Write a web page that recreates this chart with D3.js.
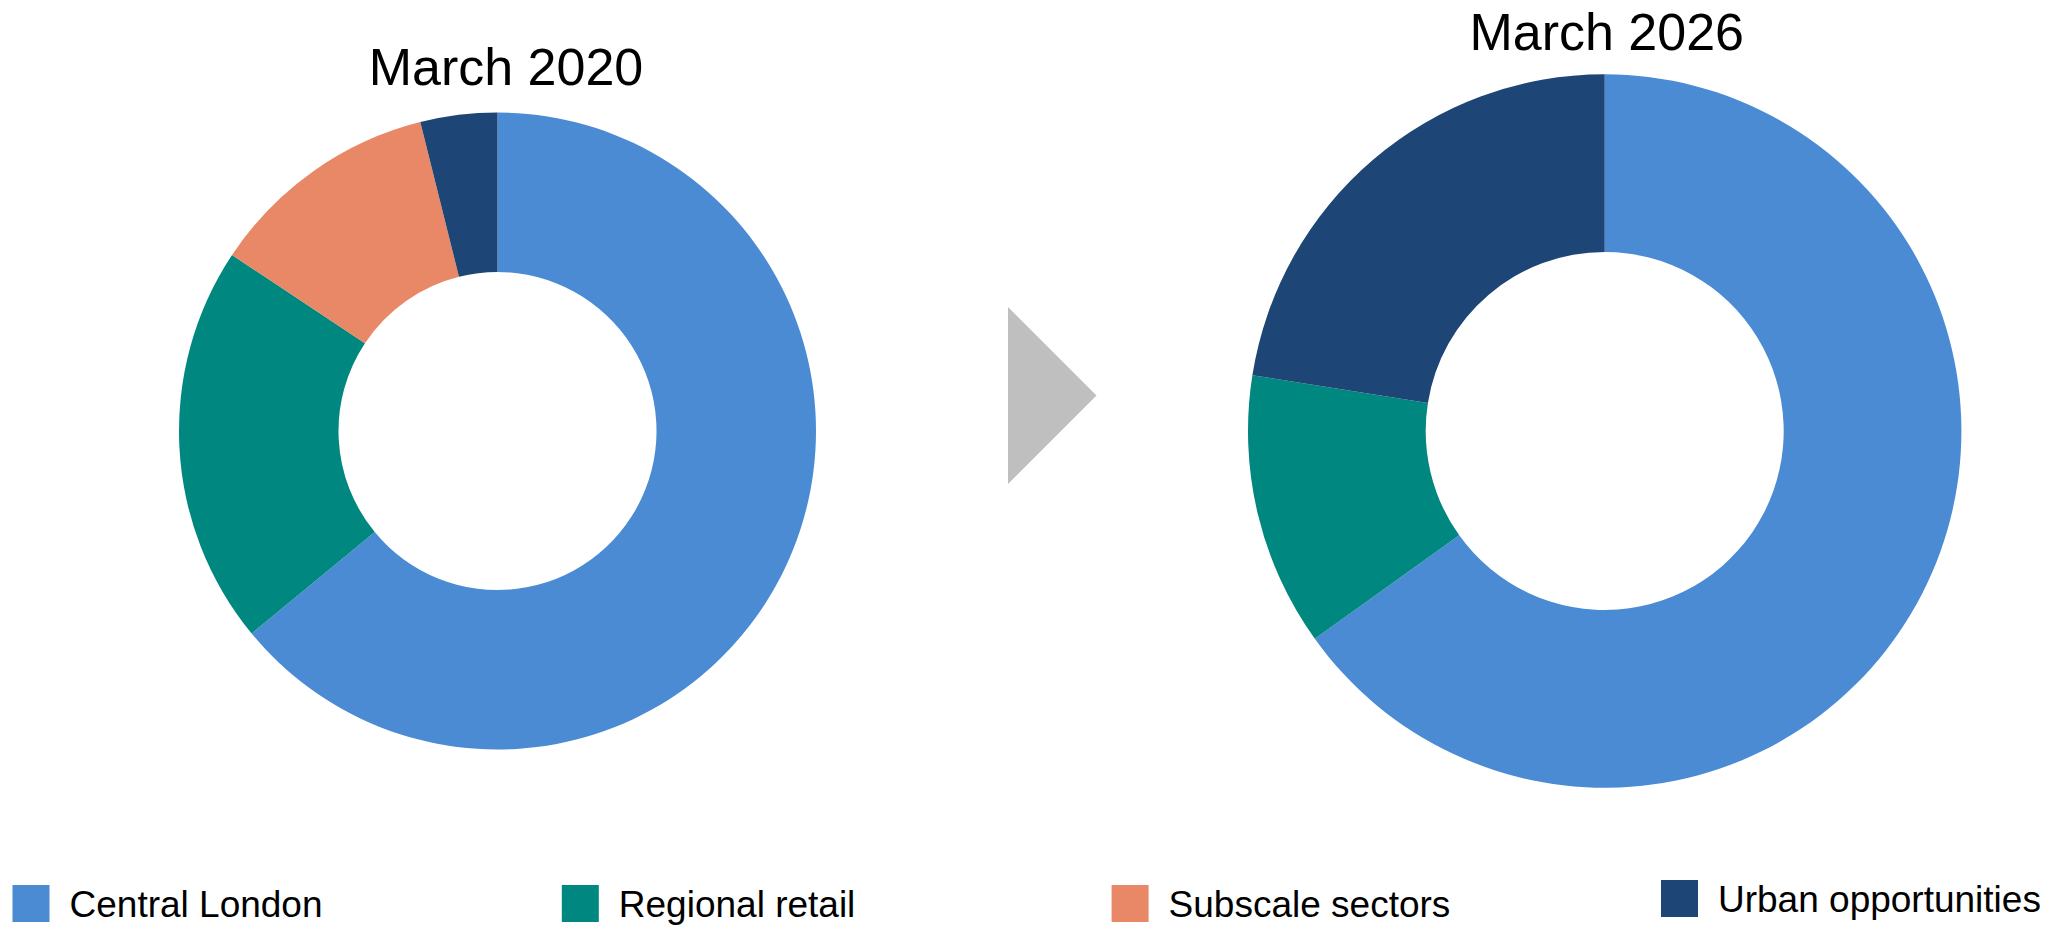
<!DOCTYPE html>
<html>
<head>
<meta charset="utf-8">
<script src="https://cdn.jsdelivr.net/npm/d3@7"></script>
<style>
  html, body { margin: 0; padding: 0; background: #ffffff; }
  svg { display: block; font-family: "Liberation Sans", Arial, sans-serif; }
</style>
</head>
<body>
<svg id="chart" width="2063" height="926"></svg>
<script>
// Portfolio mix by sector (% of total)
const categories = ["Central London", "Regional retail", "Subscale sectors", "Urban opportunities"];
const colors = ["#4a8bd4", "#00877f", "#e98866", "#1d4575"];
const periods = ["March 2020", "March 2026"];
const mix2020 = [64.1, 20.3, 11.8, 3.9];
const mix2026 = [65.1, 12.4, 0, 22.5];

const svg = d3.select("#chart");
const color = d3.scaleOrdinal().domain(categories).range(colors);

const pie = d3.pie().sort(null).value(d => d.value);

const donuts = [
  { title: periods[0], values: mix2020, cx: 497.5, cy: 431, outer: 318.5, inner: 159, titleX: 506, titleY: 85 },
  { title: periods[1], values: mix2026, cx: 1604.7, cy: 431, outer: 356.7, inner: 179, titleX: 1606.7, titleY: 50 }
];

donuts.forEach(dn => {
  const data = categories.map((c, i) => ({ category: c, value: dn.values[i] }));
  const arc = d3.arc().innerRadius(dn.inner).outerRadius(dn.outer);
  const g = svg.append("g").attr("transform", `translate(${dn.cx},${dn.cy})`);
  g.selectAll("path")
    .data(pie(data).filter(d => d.data.value > 0))
    .join("path")
    .attr("d", arc)
    .attr("fill", d => color(d.data.category));

  svg.append("text")
    .attr("x", dn.titleX)
    .attr("y", dn.titleY)
    .attr("text-anchor", "middle")
    .attr("font-size", 52)
    .attr("fill", "#000")
    .text(dn.title);
});

// Arrow between the two periods
const ax = 1008, ay = 307, ah = 177;
svg.append("path")
  .attr("d", d3.line()([[ax, ay], [ax + ah / 2, ay + ah / 2], [ax, ay + ah]]) + "Z")
  .attr("fill", "#bfbfbf");

// Legend
const legendX = [12.5, 561.8, 1111.6, 1661];
const legendDy = [0, 0, 0, -5];
const legend = svg.append("g");
categories.forEach((c, i) => {
  const g = legend.append("g").attr("transform", `translate(${legendX[i]},${885 + legendDy[i]})`);
  g.append("rect")
    .attr("width", 37)
    .attr("height", 37)
    .attr("fill", color(c));
  g.append("text")
    .attr("x", 57)
    .attr("y", 32)
    .attr("font-size", 37)
    .attr("fill", "#000")
    .text(c);
});
</script>
</body>
</html>
